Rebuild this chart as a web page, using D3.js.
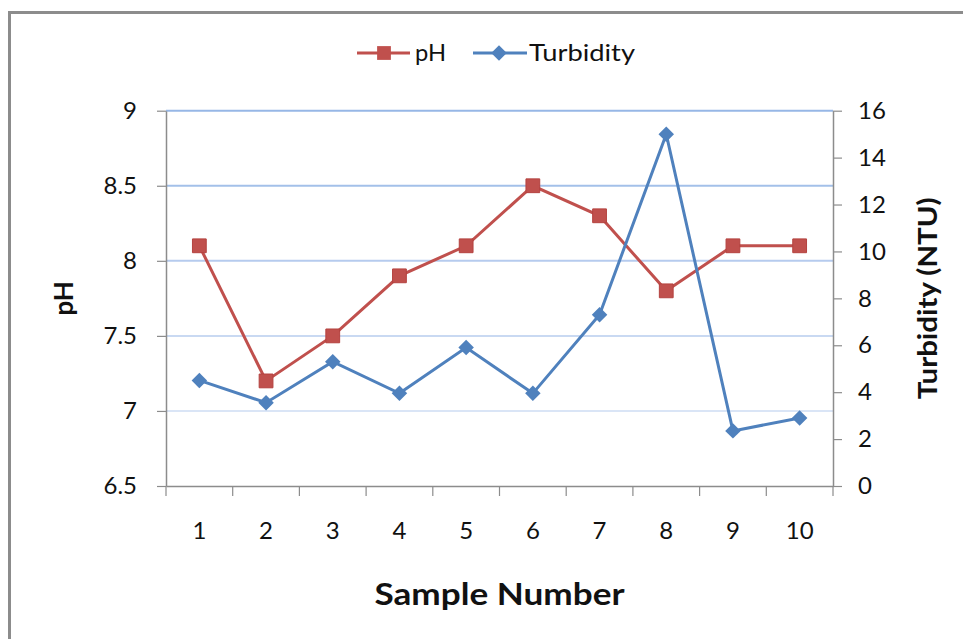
<!DOCTYPE html>
<html><head><meta charset="utf-8">
<script src="https://cdn.jsdelivr.net/npm/d3@7"></script>
<style>body{margin:0;background:#fff}svg{display:block}text{font-family:Lato,"Open Sans",sans-serif;fill:#111}</style>
</head><body>
<script>
const samples = [1,2,3,4,5,6,7,8,9,10];
const ph = [8.1,7.2,7.5,7.9,8.1,8.5,8.3,7.8,8.1,8.1];
const turbidity = [4.5,3.55,5.3,3.95,5.9,3.95,7.3,15.0,2.35,2.9];
const phTicks = [6.5,7,7.5,8,8.5,9];
const turbTicks = [0,2,4,6,8,10,12,14,16];

const W=963,H=639;
const m={l:166,r:833,t:110.7,b:486};
const svg=d3.select("body").append("svg").attr("width",W).attr("height",H);
svg.append("rect").attr("x",9.5).attr("y",12.5).attr("width",960).attr("height",640)
  .attr("fill","#fff").attr("stroke","#8c8c8c").attr("stroke-width",3);

const x=d3.scaleBand().domain(samples).range([m.l,m.r]);
const yL=d3.scaleLinear().domain([6.5,9]).range([m.b,m.t]);
const yR=d3.scaleLinear().domain([0,16]).range([m.b,m.t]);

const gridColors=["#dae5f6","#c9d9f2","#b6cbee","#a3c0e9","#97b7e6"];
svg.append("g").selectAll("line").data(phTicks.slice(1)).join("line")
  .attr("x1",m.l).attr("x2",m.r).attr("y1",d=>yL(d)).attr("y2",d=>yL(d))
  .attr("stroke",(d,i)=>gridColors[i]).attr("stroke-width",2);

function styleAxis(g){
  g.attr("font-size",24).attr("font-family","Lato,'Open Sans',sans-serif");
  g.select(".domain").attr("stroke","#8c8c8c").attr("stroke-width",1.5);
  g.selectAll(".tick line").attr("stroke","#8c8c8c").attr("stroke-width",1.2);
  g.selectAll("text").attr("font-size",24).style("font-size","24px").attr("fill","#111");
}
const gl=svg.append("g").attr("transform",`translate(${m.l},0)`)
  .call(d3.axisLeft(yL).tickValues(phTicks).tickSize(9).tickSizeOuter(0).tickPadding(20).tickFormat(d3.format("")));
styleAxis(gl);
const gr=svg.append("g").attr("transform",`translate(${m.r},0)`)
  .call(d3.axisRight(yR).tickValues(turbTicks).tickSize(9).tickSizeOuter(0).tickPadding(16));
styleAxis(gr);
const gb=svg.append("g").attr("transform",`translate(0,${m.b})`)
  .call(d3.axisBottom(x).tickSize(0).tickPadding(36));
styleAxis(gb);
const bounds=samples.map(s=>x(s)).concat([x(samples[samples.length-1])+x.bandwidth()]);
gb.selectAll(".bt").data(bounds).join("line").attr("class","bt")
  .attr("x1",d=>d).attr("x2",d=>d).attr("y1",0).attr("y2",10)
  .attr("stroke","#8c8c8c").attr("stroke-width",1.2);

const cx=d=>x(d)+x.bandwidth()/2;
const red="#c0504d",blue="#4f81bd";
const lineL=d3.line().x((d,i)=>cx(samples[i])).y(d=>yL(d));
const lineR=d3.line().x((d,i)=>cx(samples[i])).y(d=>yR(d));
svg.append("path").attr("d",lineL(ph)).attr("fill","none").attr("stroke",red).attr("stroke-width",3);
svg.append("path").attr("d",lineR(turbidity)).attr("fill","none").attr("stroke",blue).attr("stroke-width",3);
const sq=d3.symbol().type(d3.symbolSquare).size(190);
const dm=d3.symbol().type(d3.symbolSquare).size(120);
svg.append("g").selectAll("path").data(ph).join("path").attr("d",sq)
  .attr("transform",(d,i)=>`translate(${cx(samples[i])},${yL(d)})`).attr("fill",red).attr("stroke","#b4423f").attr("stroke-width",1);
svg.append("g").selectAll("path").data(turbidity).join("path").attr("d",dm)
  .attr("transform",(d,i)=>`translate(${cx(samples[i])},${yR(d)}) rotate(45)`).attr("fill",blue);

svg.append("text").attr("x",(m.l+m.r)/2).attr("y",605).attr("text-anchor","middle")
  .style("font-size","31px").style("font-weight","bold").attr("textLength",250).attr("lengthAdjust","spacingAndGlyphs").text("Sample Number");
svg.append("text").attr("transform",`translate(73,${(m.t+m.b)/2}) rotate(-90)`).attr("text-anchor","middle")
  .style("font-size","26px").style("font-weight","bold").text("pH");
svg.append("text").attr("transform",`translate(937,${(m.t+m.b)/2}) rotate(-90)`).attr("text-anchor","middle")
  .style("font-size","26px").style("font-weight","bold").attr("textLength",202).attr("lengthAdjust","spacingAndGlyphs").text("Turbidity (NTU)");

const lg=svg.append("g");
lg.append("line").attr("x1",357).attr("x2",410).attr("y1",53).attr("y2",53).attr("stroke",red).attr("stroke-width",3);
lg.append("path").attr("d",sq).attr("transform","translate(384,53)").attr("fill",red);
lg.append("text").attr("x",415).attr("y",61).style("font-size","23px").attr("textLength",31).attr("lengthAdjust","spacingAndGlyphs").text("pH");
lg.append("line").attr("x1",473).attr("x2",527).attr("y1",53).attr("y2",53).attr("stroke",blue).attr("stroke-width",3);
lg.append("path").attr("d",dm).attr("transform","translate(499,53) rotate(45)").attr("fill",blue);
lg.append("text").attr("x",529).attr("y",61).style("font-size","23px").attr("textLength",106).attr("lengthAdjust","spacingAndGlyphs").text("Turbidity");
</script>
</body></html>
